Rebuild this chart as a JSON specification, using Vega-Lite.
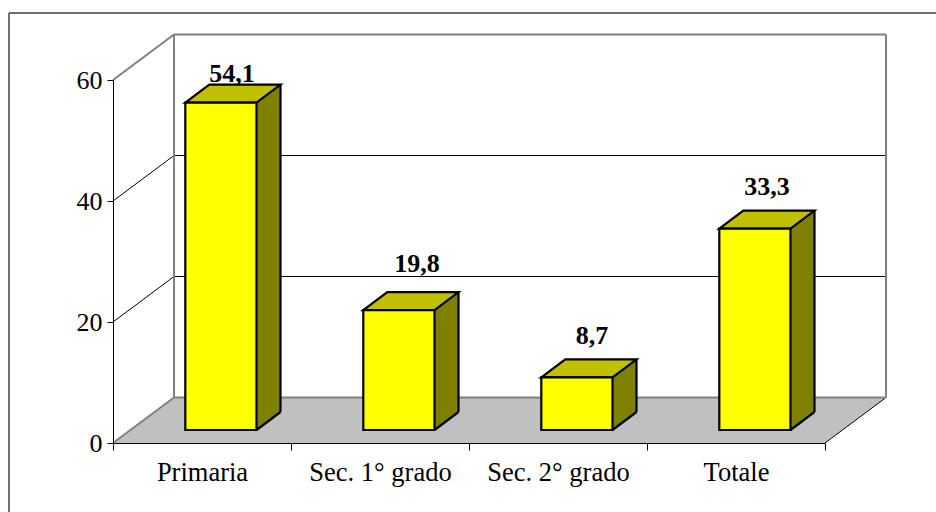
{"$schema":"https://vega.github.io/schema/vega-lite/v6.json","width":773,"height":409,"padding":{"left":113,"top":34,"right":50,"bottom":69},"autosize":{"type":"none"},"background":"white","config":{"view":{"stroke":null},"font":"Liberation Serif"},
"datasets":{"bars":[{"categoria":"Primaria","valore":54.1,"etichetta":"54,1"},{"categoria":"Sec. 1° grado","valore":19.8,"etichetta":"19,8"},{"categoria":"Sec. 2° grado","valore":8.7,"etichetta":"8,7"},{"categoria":"Totale","valore":33.3,"etichetta":"33,3"}],
"floor":[{"x":0,"y":0,"y2":0},{"x":0.3427,"y":7.52,"y2":0},{"x":4,"y":7.52,"y2":0},{"x":4.3427,"y":7.52,"y2":7.52}],
"grey":[{"s":"top","x":0.3427,"y":67.52},{"s":"top","x":4.3427,"y":67.52},{"s":"bottom","x":0.3427,"y":7.52},{"s":"bottom","x":4.3427,"y":7.52},{"s":"left","x":0.3427,"y":7.52},{"s":"left","x":0.3427,"y":67.52},{"s":"right","x":4.3427,"y":7.52},{"s":"right","x":4.3427,"y":67.52},{"s":"o60","x":0,"y":60},{"s":"o60","x":0.3427,"y":67.52},{"s":"o0","x":0,"y":0},{"s":"o0","x":0.3427,"y":7.52}],
"black":[{"s":"g20","x":0,"y":20},{"s":"g20","x":0.3427,"y":27.52},{"s":"g20","x":4.3427,"y":27.52},{"s":"g40","x":0,"y":40},{"s":"g40","x":0.3427,"y":47.52},{"s":"g40","x":4.3427,"y":47.52},{"s":"edge","x":4,"y":0},{"s":"edge","x":4.3427,"y":7.52}],
"frame":[{"s":"v","x":-0.5843,"y":-20},{"s":"v","x":-0.5843,"y":71.07},{"s":"h","x":-0.5843,"y":71.07},{"s":"h","x":6,"y":71.07}]},
"layer":[
{"encoding":{"x":{"field":"x","type":"quantitative","scale":{"domain":[0,4.3427],"range":[0,773],"nice":false,"zero":false},"axis":null},"y":{"field":"y","type":"quantitative","scale":{"domain":[0,60],"range":[409,46],"nice":false},"axis":{"title":null,"values":[0,20,40,60],"grid":false,"labelFontSize":26,"labelColor":"#000000","labelFont":"Liberation Serif","tickSize":6,"tickColor":"#000000","domainColor":"#000000","labelPadding":5,"zindex":1}}},
"layer":[
{"data":{"name":"frame"},"mark":{"type":"line","color":"#404040","strokeWidth":1.5},"encoding":{"detail":{"field":"s"}}},
{"data":{"name":"floor"},"mark":{"type":"area","color":"#c0c0c0"},"encoding":{"y2":{"field":"y2"}}},
{"data":{"name":"black"},"mark":{"type":"line","color":"#000000","strokeWidth":1},"encoding":{"detail":{"field":"s"}}},
{"data":{"name":"grey"},"mark":{"type":"line","color":"#808080","strokeWidth":2},"encoding":{"detail":{"field":"s"}}}
]},
{"data":{"name":"bars"},"encoding":{"x":{"field":"categoria","type":"nominal","sort":null,"scale":{"type":"band","range":[0,712],"paddingInner":0,"paddingOuter":0},"axis":{"title":null,"labelAngle":0,"labelFontSize":26.5,"labelColor":"#000000","labelFont":"Liberation Serif","tickBand":"extent","tickSize":7,"tickColor":"#000000","domainColor":"#000000","labelPadding":9,"labelLimit":300,"zindex":1}},"y":{"field":"valore","type":"quantitative","scale":{"domain":[0,60],"range":[409,46],"nice":false},"axis":{"title":null,"values":[0,20,40,60],"grid":false,"labelFontSize":26,"labelColor":"#000000","labelFont":"Liberation Serif","tickSize":6,"tickColor":"#000000","domainColor":"#000000","labelPadding":5,"zindex":1}}},
"layer":[
{"mark":{"type":"bar","color":"#808000","width":{"band":0.4},"xOffset":42.9,"yOffset":-31,"y2Offset":-31},"encoding":{"y2":{"datum":0}}},
{"mark":{"type":"point","filled":true,"opacity":1,"color":"#808000","strokeWidth":0,"size":4,"xOffset":18.9,"yOffset":-13,"shape":"M35.6 0 L59.6 -18 L35.6 -18 Z"},"encoding":{"y":{"datum":0}}},
{"mark":{"type":"point","filled":false,"opacity":1,"fillOpacity":0,"color":"#000000","strokeWidth":2.2,"size":4,"xOffset":18.9,"yOffset":-13,"shape":"M35.6 0 L59.6 -18"},"encoding":{"y":{"datum":0}}},
{"mark":{"type":"rule","color":"#000000","strokeWidth":2.2,"xOffset":78.5,"yOffset":-31,"y2Offset":-31},"encoding":{"y2":{"datum":0}}},
{"mark":{"type":"point","filled":true,"opacity":1,"fill":"#c0c000","stroke":"#000000","strokeWidth":2.2,"size":4,"xOffset":18.9,"yOffset":-13,"shape":"M-35.6 0 L35.6 0 L59.6 -18 L-11.6 -18 Z"}},
{"mark":{"type":"bar","color":"#ffff00","stroke":"#000000","strokeWidth":2.2,"width":{"band":0.4},"xOffset":18.9,"yOffset":-13,"y2Offset":-13},"encoding":{"y2":{"datum":0}}},
{"transform":[{"filter":"datum.categoria=='Primaria'"}],"mark":{"type":"text","font":"Liberation Serif","fontWeight":"bold","fontSize":26,"color":"#000000","baseline":"alphabetic","xOffset":30,"yOffset":-34},"encoding":{"text":{"field":"etichetta"}}},
{"transform":[{"filter":"datum.categoria=='Sec. 1° grado'"}],"mark":{"type":"text","font":"Liberation Serif","fontWeight":"bold","fontSize":26,"color":"#000000","baseline":"alphabetic","xOffset":37,"yOffset":-51},"encoding":{"text":{"field":"etichetta"}}},
{"transform":[{"filter":"datum.categoria=='Sec. 2° grado'"}],"mark":{"type":"text","font":"Liberation Serif","fontWeight":"bold","fontSize":26,"color":"#000000","baseline":"alphabetic","xOffset":34,"yOffset":-46},"encoding":{"text":{"field":"etichetta"}}},
{"transform":[{"filter":"datum.categoria=='Totale'"}],"mark":{"type":"text","font":"Liberation Serif","fontWeight":"bold","fontSize":26,"color":"#000000","baseline":"alphabetic","xOffset":31,"yOffset":-47},"encoding":{"text":{"field":"etichetta"}}}
]}
],
"resolve":{"scale":{"x":"independent"},"axis":{"x":"independent"}}}
